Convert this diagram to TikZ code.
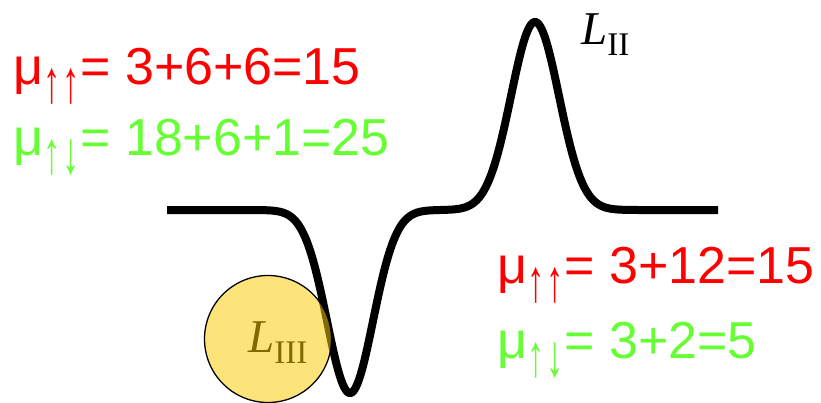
\documentclass[tikz,border=0pt]{standalone}
\usepackage{fontspec}
\newfontfamily\arialf{Liberation Sans}
\newfontfamily\timesf{Liberation Serif}
\definecolor{myred}{RGB}{255,0,0}
\definecolor{mygreen}{RGB}{102,255,51}
\definecolor{gold}{RGB}{250,204,0}
\tikzset{
  eqn/.style={anchor=base west, inner sep=0pt, font=\arialf\fontsize{52}{52}\selectfont},
  lbl/.style={anchor=base west, inner sep=0pt, font=\timesf\fontsize{47}{47}\selectfont},
  curve/.style={line width=8pt, black},
  blob/.style={circle, draw=black, line width=1.3pt, fill=gold, fill opacity=0.52, draw opacity=1, minimum size=127pt, inner sep=0pt}
}
\newcommand{\subar}[2]{\kern0.5pt\raisebox{-18pt}{\scalebox{1.15}[2.0]{\fontsize{30}{30}\selectfont #1\kern1.5pt#2}}\kern0.5pt}
\newcommand{\sublbl}[1]{\raisebox{-11pt}{\upshape\fontsize{33}{33}\selectfont #1}}
\begin{document}
\begin{tikzpicture}[x=1pt,y=-1pt]
\useasboundingbox (0,0) rectangle (821,402);
% curve
\draw[curve] plot[domain=167:718, samples=400, smooth] (\x, {210 + 183*exp(-((\x-350)/23)^2/2) - 188*exp(-((\x-535)/24)^2/2)});
% labels
\node[lbl] (l2) at (581,44) {{\itshape L}\sublbl{II}};
\node[lbl] (l3) at (248,352) {{\itshape L}\sublbl{III}};
% equations
\node[eqn, text=myred] (e1) at (13,84) {μ\subar{↑}{↑}= 3+6+6=15};
\node[eqn, text=mygreen] (e2) at (13,155) {μ\subar{↑}{↓}= 18+6+1=25};
\node[eqn, text=myred] (e3) at (497,283) {μ\subar{↑}{↑}= 3+12=15};
\node[eqn, text=mygreen] (e4) at (497,358) {μ\subar{↑}{↓}= 3+2=5};
% circle
\node[blob] (c) at (268,339) {};
\end{tikzpicture}
\end{document}
